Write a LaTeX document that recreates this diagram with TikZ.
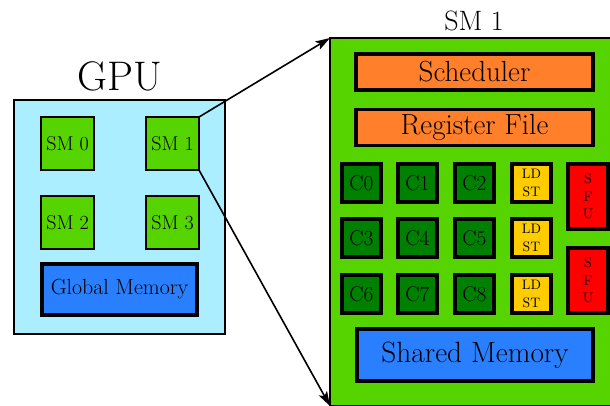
\documentclass[tikz,border=0pt]{standalone}
\usetikzlibrary{arrows.meta}
\definecolor{gpucyan}{HTML}{AAEEFF}
\definecolor{smgreen}{HTML}{55D400}
\definecolor{memblue}{HTML}{2A7FFF}
\definecolor{unitorange}{HTML}{FF7F2A}
\definecolor{coregreen}{HTML}{008000}
\definecolor{ldstgold}{HTML}{FFCC00}
\definecolor{sfured}{HTML}{FF0000}
\begin{document}
\begin{tikzpicture}[x=0.75pt,y=-0.75pt,
  sz/.style 2 args={minimum width=#1*0.75pt, minimum height=#2*0.75pt},
  blk/.style={draw=black, inner sep=0pt, outer sep=0pt},
  gpubox/.style={blk, fill=gpucyan, line width=1.6pt},
  smbox/.style={blk, fill=smgreen, line width=2.2pt, sz={53}{53}, font=\fontsize{15}{18}\selectfont},
  bigsm/.style={blk, fill=smgreen, line width=1.6pt},
  gmem/.style={blk, fill=memblue, line width=2.4pt, font=\fontsize{16.4}{20}\selectfont},
  smem/.style={blk, fill=memblue, line width=2.4pt, font=\fontsize{22}{26}\selectfont},
  unit/.style={blk, fill=unitorange, line width=2.4pt, sz={237}{36}, font=\fontsize{21.8}{26}\selectfont},
  core/.style={blk, fill=coregreen, line width=3pt, sz={39}{38}, font=\fontsize{16}{19}\selectfont},
  ldst/.style={blk, fill=ldstgold, line width=3pt, sz={39}{38}, align=center, font=\fontsize{10.3}{13.5}\selectfont},
  sfu/.style={blk, fill=sfured, line width=3pt, sz={40}{65}, align=center, font=\fontsize{10.5}{13}\selectfont},
  zoomline/.style={line width=1.2pt, -{Stealth[length=11pt, width=7pt, inset=2.5pt]}}
]
\clip (0,0) rectangle (610,405);

% GPU overview
\node[gpubox, sz={211}{234}] (gpu) at (119.5,217) {};
\node[font=\fontsize{31}{36}\selectfont] (gputitle) at (119.5,76.5) {GPU};
\node[smbox] (sm0) at (67.5,143.5) {SM 0};
\node[smbox] (sm1) at (172.5,143.5) {SM 1};
\node[smbox] (sm2) at (67.5,222.5) {SM 2};
\node[smbox] (sm3) at (172.5,222.5) {SM 3};
\node[gmem, sz={155}{51}] (gmem) at (119.5,289.5) {Global Memory};

% Detail of one streaming multiprocessor
\node[bigsm, sz={284}{368}] (big) at (472,222) {};
\node[font=\fontsize{21}{25}\selectfont] (bigtitle) at (474,20.5) {SM 1};
\node[unit] (sched) at (474.5,72) {Scheduler};
\node[unit] (regs) at (474.5,127.5) {Register File};

\node[core] (c0) at (361.5,183) {C0};
\node[core] (c1) at (417.5,183) {C1};
\node[core] (c2) at (474.5,183) {C2};
\node[core] (c3) at (361.5,238) {C3};
\node[core] (c4) at (417.5,238) {C4};
\node[core] (c5) at (474.5,238) {C5};
\node[core] (c6) at (361.5,294) {C6};
\node[core] (c7) at (417.5,294) {C7};
\node[core] (c8) at (474.5,294) {C8};

\node[ldst] (ld0) at (531.5,183) {LD\\ST};
\node[ldst] (ld1) at (531.5,238) {LD\\ST};
\node[ldst] (ld2) at (531.5,294) {LD\\ST};

\node[sfu] (sfu0) at (588,196.5) {S\\F\\U};
\node[sfu] (sfu1) at (588,280.5) {S\\F\\U};

\node[smem, sz={236}{52}] (smem) at (475,355) {Shared Memory};

% Zoom lines
\draw[zoomline] (sm1.north east) -- (big.north west);
\draw[zoomline] (sm1.south east) -- (big.south west);
\end{tikzpicture}
\end{document}
